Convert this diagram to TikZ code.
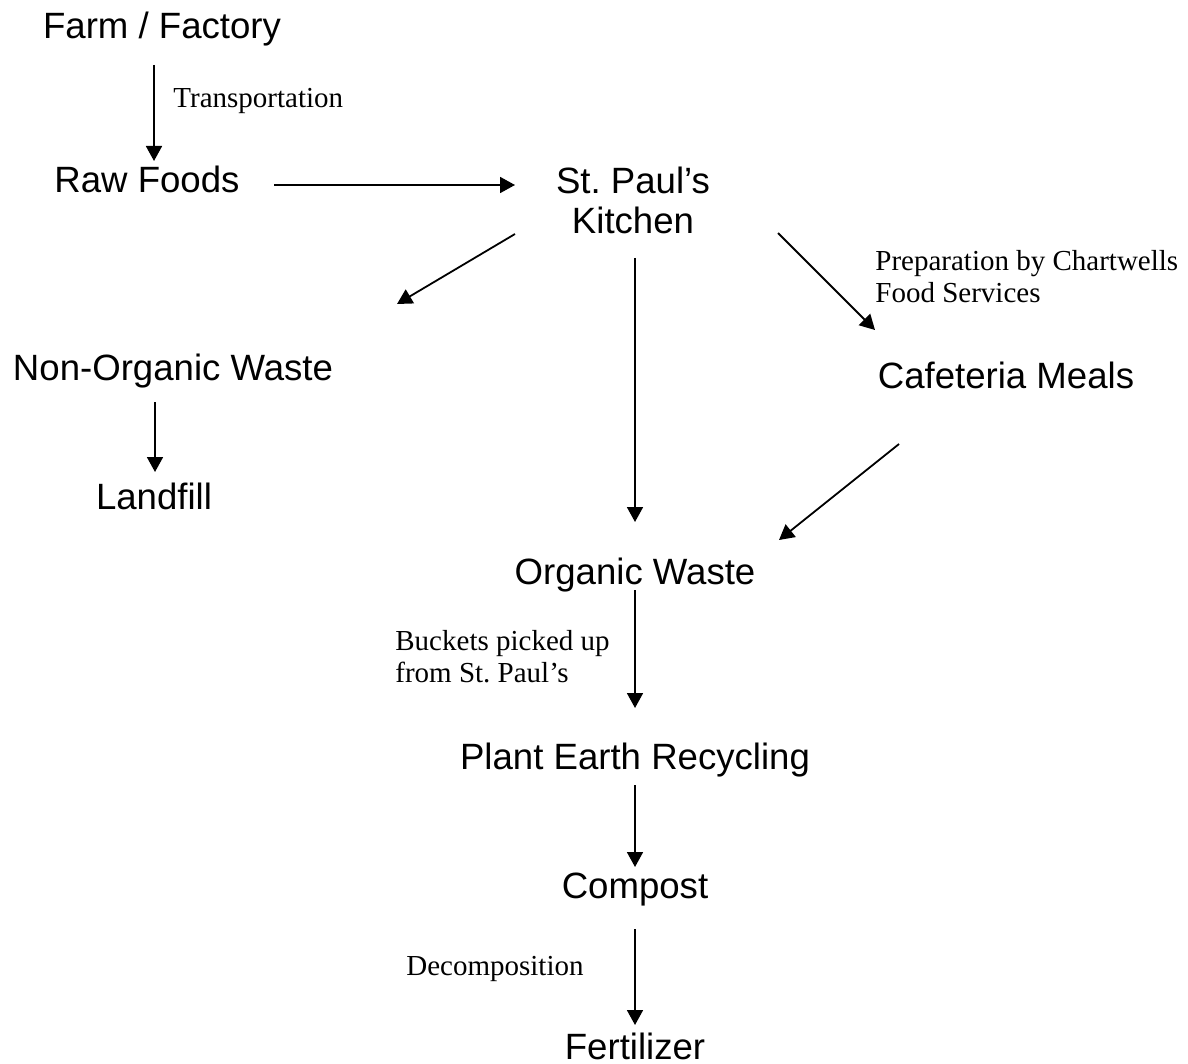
\documentclass[tikz,border=0pt]{standalone}
\usepackage{fontspec}
\setmainfont{Liberation Serif}
\newfontfamily\arialfont{Liberation Sans}
\usetikzlibrary{arrows.meta}
\tikzset{
  stage/.style={font=\arialfont\fontsize{18.3}{20}\selectfont,inner sep=0pt,anchor=base,align=center},
  note/.style={font=\fontsize{14.5}{15.8}\selectfont,inner sep=0pt,anchor=base west,align=left},
  flow/.style={-{Triangle[length=7.5pt,width=8pt]},line width=.9pt},
}
\begin{document}
\begin{tikzpicture}[x=.5pt,y=-.5pt]
\useasboundingbox (0,0) rectangle (1188,1064);
% stages of the food chain (base = last line)
\node[stage] at (162,39) (farm) {Farm / Factory};
\node[stage] at (147,193) (raw) {Raw Foods};
\node[stage] at (633,234) (kitchen) {St.\ Paul’s\\Kitchen};
\node[stage] at (173,380) (nonorg) {Non-Organic Waste};
\node[stage] at (154,509) (landfill) {Landfill};
\node[stage] at (1006,388) (cafe) {Cafeteria Meals};
\node[stage] at (635,584) (organic) {Organic Waste};
\node[stage] at (635,769) (plant) {Plant Earth Recycling};
\node[stage] at (635,898) (compost) {Compost};
\node[stage] at (635,1059) (fert) {Fertilizer};
% notes
\node[note] at (173,108) (trans) {Transportation};
\node[note] at (875,302) (prep) {Preparation by Chartwells\\Food Services};
\node[note] at (395,682) (bucket) {Buckets picked up\\from St.\ Paul’s};
\node[note] at (406,975) (decomp) {Decomposition};
% arrow ends
\coordinate (farm-o) at (154,65);   \coordinate (raw-i) at (154,161);
\coordinate (raw-o) at (274,185);   \coordinate (kitchen-i) at (515,185);
\coordinate (kitchen-l) at (515,234); \coordinate (nonorg-i) at (397,304);
\coordinate (kitchen-m) at (635,258); \coordinate (organic-i) at (635,522);
\coordinate (kitchen-r) at (778,233); \coordinate (cafe-i) at (875,330);
\coordinate (nonorg-o) at (155,402); \coordinate (landfill-i) at (155,472);
\coordinate (cafe-o) at (899,444);   \coordinate (organic-r) at (779,540);
\coordinate (organic-o) at (635,590); \coordinate (plant-i) at (635,708);
\coordinate (plant-o) at (635,785);  \coordinate (compost-i) at (635,867);
\coordinate (compost-o) at (635,929); \coordinate (fert-i) at (635,1025);
\draw[flow] (farm-o)--(raw-i);
\draw[flow] (raw-o)--(kitchen-i);
\draw[flow] (kitchen-l)--(nonorg-i);
\draw[flow] (kitchen-m)--(organic-i);
\draw[flow] (kitchen-r)--(cafe-i);
\draw[flow] (nonorg-o)--(landfill-i);
\draw[flow] (cafe-o)--(organic-r);
\draw[flow] (organic-o)--(plant-i);
\draw[flow] (plant-o)--(compost-i);
\draw[flow] (compost-o)--(fert-i);
\end{tikzpicture}
\end{document}
